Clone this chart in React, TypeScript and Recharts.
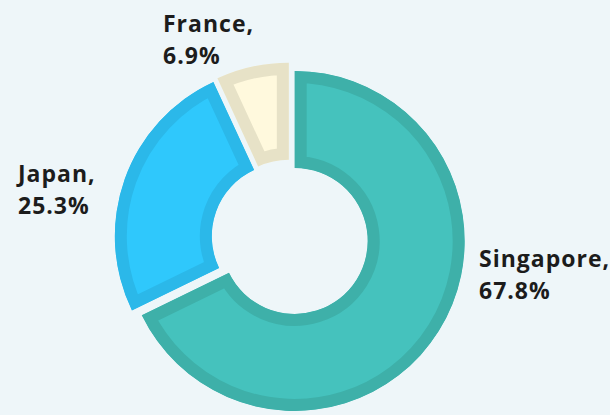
import { PieChart, Pie, Sector } from 'recharts'

const countries = ['Singapore', 'Japan', 'France']
const shares = [67.8, 25.3, 6.9]

const fills = ['#45C2BD', '#2FC8FC', '#FFF9DD']
const borders = ['#3EB0A9', '#2BB8E9', '#E7E2C7']

// top-left of each two-line label (left edge, first baseline)
const labelAt = [
  { x: 479, y: 267 },
  { x: 18, y: 182 },
  { x: 163, y: 32 },
]

const data = countries.map((name, i) => ({ name, value: shares[i] }))

const EXPLODE = 5.5
const BORDER = 12
const RADIAN = Math.PI / 180

// slices are pulled out a little along their mid angle, with a border drawn on the inside
function renderSlice(props: any) {
  const { cx, cy, midAngle, innerRadius, outerRadius, startAngle, endAngle, index } = props
  const x = cx + EXPLODE * Math.cos(-midAngle * RADIAN)
  const y = cy + EXPLODE * Math.sin(-midAngle * RADIAN)
  const clipId = `slice-clip-${index}`
  const shape = { cx: x, cy: y, innerRadius, outerRadius, startAngle, endAngle }
  const pos = labelAt[index]
  return (
    <g key={clipId}>
      <defs>
        <clipPath id={clipId}>
          <Sector {...shape} />
        </clipPath>
      </defs>
      <Sector
        {...shape}
        fill={fills[index]}
        stroke={borders[index]}
        strokeWidth={BORDER * 2}
        clipPath={`url(#${clipId})`}
      />
      <text
        x={pos.x}
        y={pos.y}
        fill="#1c1c1c"
        fontSize={23}
        fontWeight="bold"
        letterSpacing={1}
        fontFamily="'Open Sans', sans-serif"
      >
        <tspan x={pos.x}>{countries[index]},</tspan>
        <tspan x={pos.x} dy={32}>
          {shares[index]}%
        </tspan>
      </text>
    </g>
  )
}

export default function App() {
  return (
    <div style={{ position: 'absolute', left: 0, top: 0, width: 610, height: 415, background: '#EEF6F9' }}>
      <PieChart width={610} height={415} margin={{ top: 0, right: 0, bottom: 0, left: 0 }}>
        <Pie
          data={data}
          dataKey="value"
          nameKey="name"
          cx={290}
          cy={238}
          innerRadius={73}
          outerRadius={170}
          startAngle={90}
          endAngle={-270}
          fill="none"
          stroke="none"
          label={renderSlice}
          labelLine={false}
          isAnimationActive={false}
        />
      </PieChart>
    </div>
  )
}
